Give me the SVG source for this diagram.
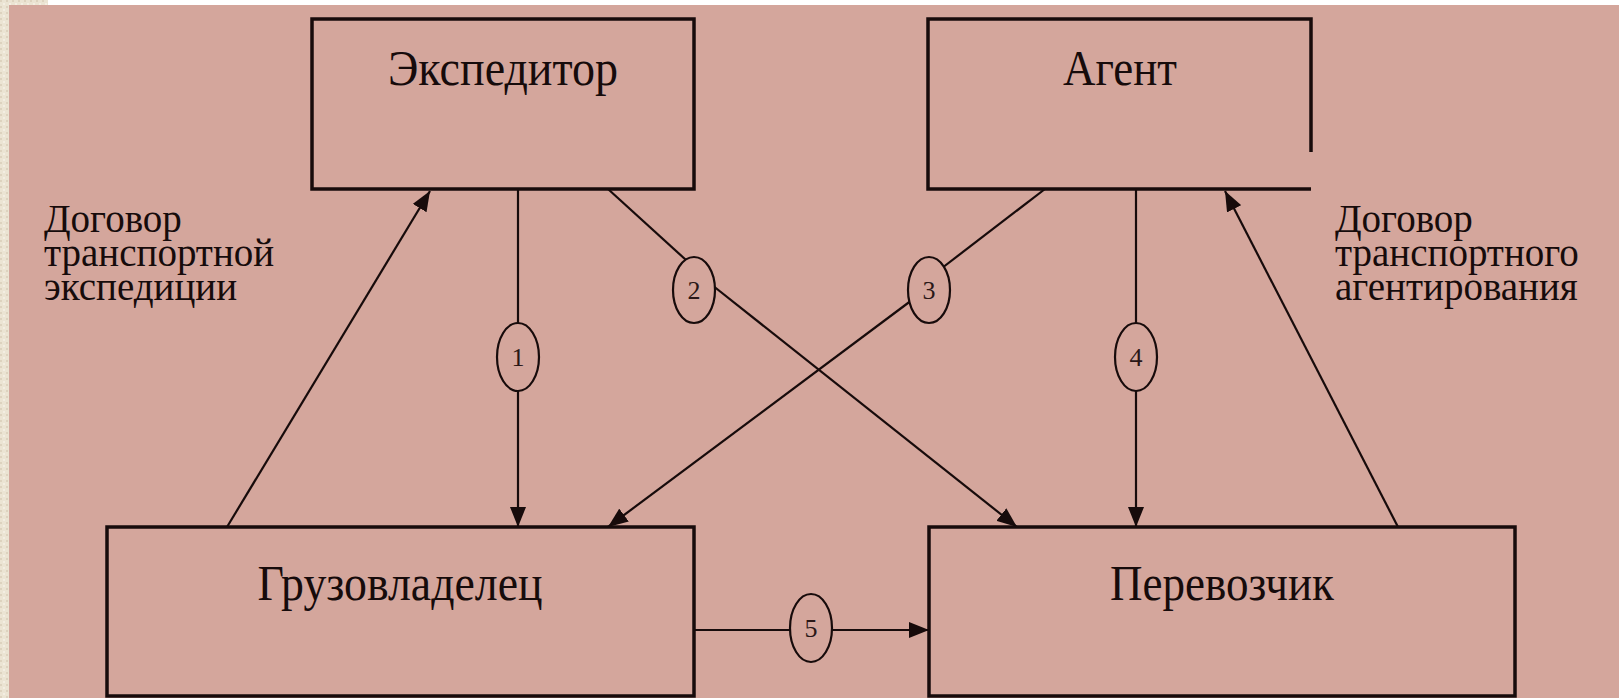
<svg xmlns="http://www.w3.org/2000/svg" width="1619" height="698" viewBox="0 0 1619 698">
<style>
.box{fill:none;stroke:#170b0b;stroke-width:3.5}
.ln{fill:none;stroke:#170b0b;stroke-width:2.2}
.arr{marker-end:url(#ah)}
.cir{fill:#d4a69c;stroke:#170b0b;stroke-width:2.2}
.lbl{font-family:"Liberation Serif","Times New Roman",serif;font-size:50px;fill:#160b0b;text-anchor:middle}
.side{font-family:"Liberation Serif","Times New Roman",serif;font-size:39px;fill:#160b0b}
.num{font-family:"Liberation Serif","Times New Roman",serif;font-size:26px;fill:#2a1717;text-anchor:middle}
</style>
<defs>
<pattern id="bg" width="6" height="6" patternUnits="userSpaceOnUse">
<rect width="6" height="6" fill="#ebe4d3"/>
<rect x="0" y="0" width="2" height="2" fill="#ddd3bf"/>
<rect x="3" y="3" width="2" height="2" fill="#f3eee2"/>
</pattern>
<marker id="ah" markerUnits="userSpaceOnUse" markerWidth="20" markerHeight="16" refX="20" refY="8" orient="auto">
<path d="M0,0 L20,8 L0,16 z" fill="#170b0b"/>
</marker>
</defs>
<rect x="0" y="0" width="1619" height="698" fill="url(#bg)"/>
<rect x="48" y="0" width="1571" height="6" fill="#ffffff"/>
<rect x="9" y="5" width="1610" height="693" fill="#d4a69c"/>

<g id="connectors">
<line class="ln arr" x1="227" y1="527" x2="430" y2="191"/>
<line class="ln" x1="518" y1="189" x2="518" y2="330"/>
<line class="ln arr" x1="518" y1="385" x2="518" y2="527"/>
<line class="ln" x1="608" y1="189" x2="686" y2="260"/>
<line class="ln arr" x1="712" y1="285" x2="1017" y2="527"/>
<line class="ln" x1="1045" y1="189" x2="942" y2="268"/>
<line class="ln arr" x1="912" y1="300" x2="608" y2="527"/>
<line class="ln" x1="1136" y1="189" x2="1136" y2="330"/>
<line class="ln arr" x1="1136" y1="385" x2="1136" y2="527"/>
<line class="ln arr" x1="1398" y1="527" x2="1225" y2="191"/>
<line class="ln" x1="694" y1="630" x2="792" y2="630"/>
<line class="ln arr" x1="830" y1="630" x2="929" y2="630"/>
</g>

<g id="circle1"><ellipse class="cir" cx="518" cy="357" rx="21" ry="34"/><text class="num" x="518" y="366">1</text></g>
<g id="circle2"><ellipse class="cir" cx="694" cy="290" rx="21" ry="33"/><text class="num" x="694" y="299">2</text></g>
<g id="circle3"><ellipse class="cir" cx="929" cy="290" rx="21" ry="33"/><text class="num" x="929" y="299">3</text></g>
<g id="circle4"><ellipse class="cir" cx="1136" cy="357" rx="21" ry="34"/><text class="num" x="1136" y="366">4</text></g>
<g id="circle5"><ellipse class="cir" cx="811" cy="628" rx="21" ry="34"/><text class="num" x="811" y="637">5</text></g>

<g id="expeditor">
<rect class="box" x="312" y="19" width="382" height="170"/>
<text class="lbl" x="503" y="85" textLength="230" lengthAdjust="spacingAndGlyphs">Экспедитор</text>
</g>
<g id="agent">
<path class="box" d="M1311,152 L1311,19 L928,19 L928,189 L1311,189"/>
<text class="lbl" x="1120" y="85" textLength="114" lengthAdjust="spacingAndGlyphs">Агент</text>
</g>
<g id="gruzovladelec">
<rect class="box" x="107" y="527" width="587" height="169"/>
<text class="lbl" x="400" y="600" textLength="285" lengthAdjust="spacingAndGlyphs">Грузовладелец</text>
</g>
<g id="perevozchik">
<rect class="box" x="929" y="527" width="586" height="169"/>
<text class="lbl" x="1222" y="600" textLength="224" lengthAdjust="spacingAndGlyphs">Перевозчик</text>
</g>

<g id="label-left">
<text class="side" x="44" y="232">Договор</text>
<text class="side" x="44" y="266">транспортной</text>
<text class="side" x="44" y="300">экспедиции</text>
</g>
<g id="label-right">
<text class="side" x="1335" y="232">Договор</text>
<text class="side" x="1335" y="266">транспортного</text>
<text class="side" x="1335" y="300">агентирования</text>
</g>
</svg>
